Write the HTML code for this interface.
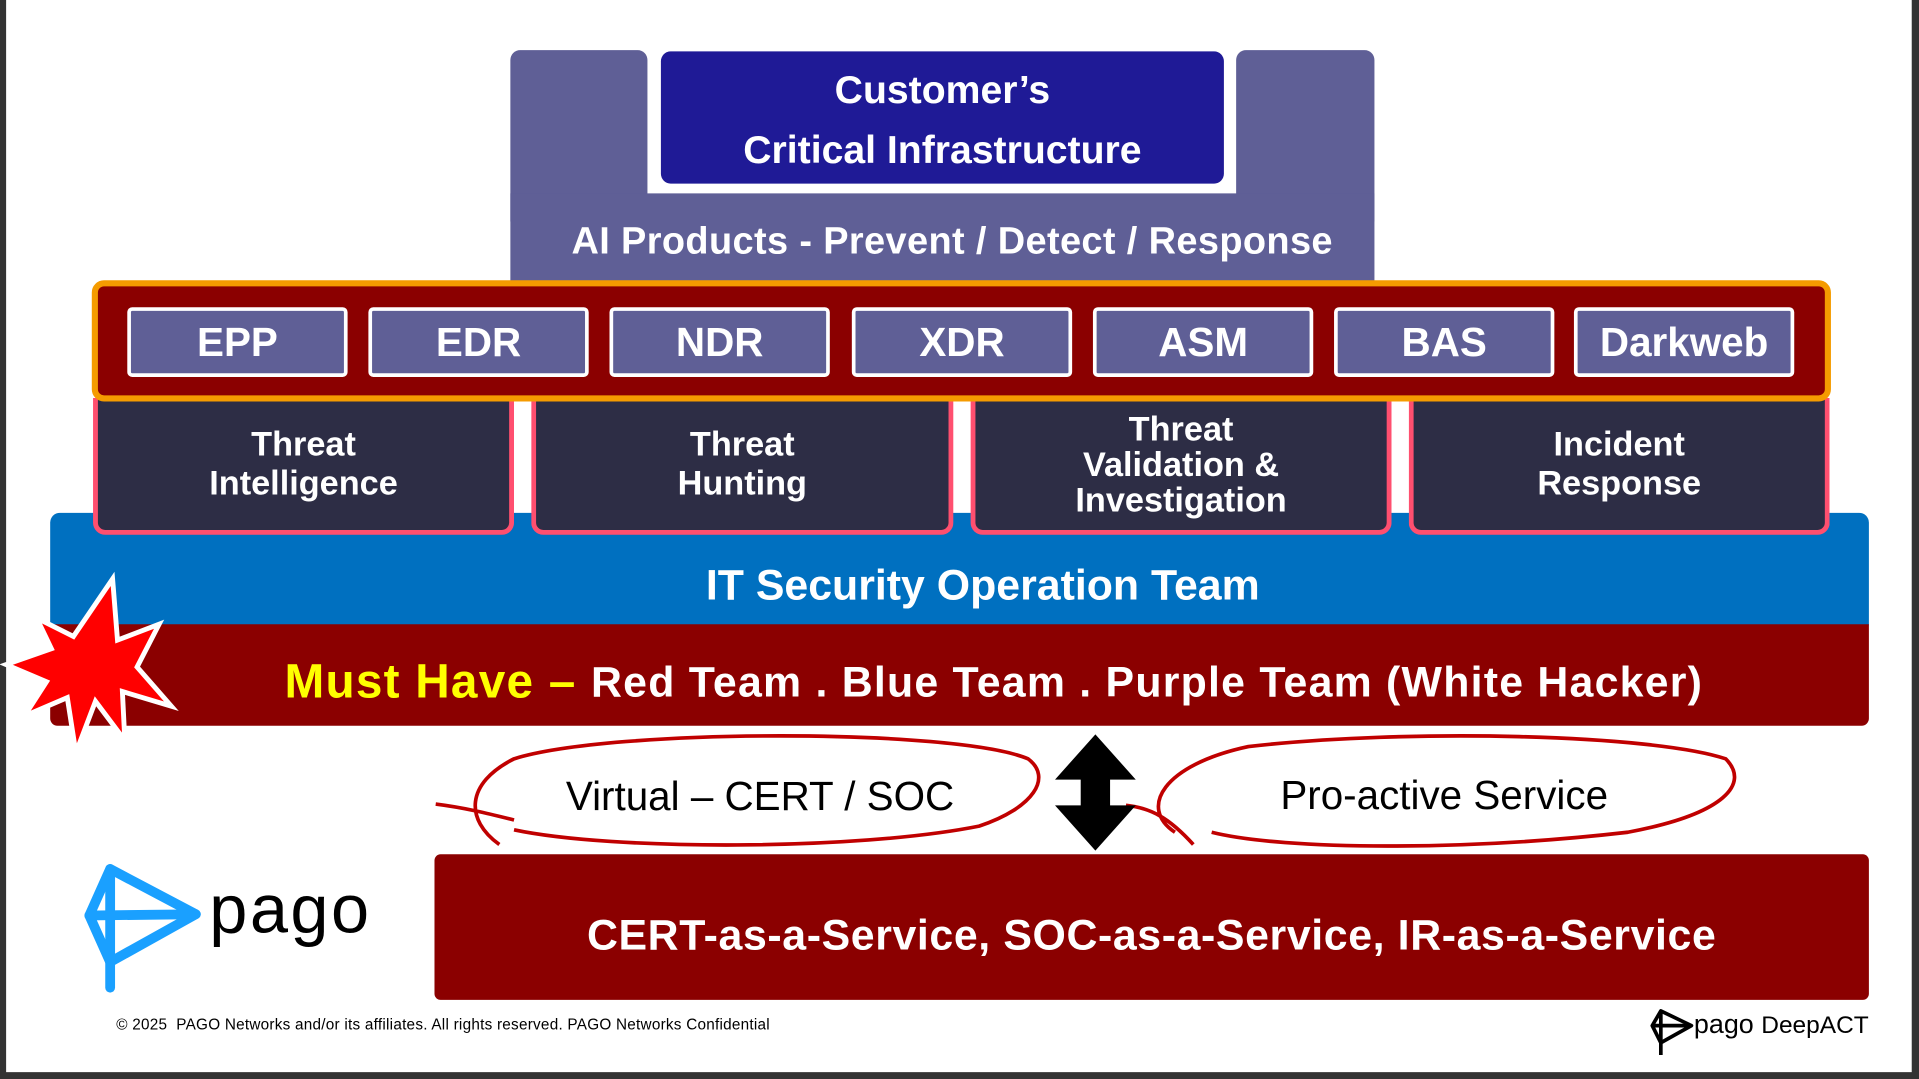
<!DOCTYPE html>
<html><head><meta charset="utf-8"><style>
html,body{margin:0;padding:0;background:#333;}
#wrap{width:1919px;height:1079px;overflow:hidden;position:relative;background:#333;}
#s{position:absolute;left:0;top:0;width:1568px;height:882px;transform:scale(1.2239);transform-origin:0 0;font-family:"Liberation Sans",sans-serif;}
#page{position:absolute;left:5px;top:0;width:1557px;height:876px;background:#fff;}
.a{position:absolute;box-sizing:border-box;}
.c{display:flex;align-items:center;justify-content:center;text-align:center;color:#fff;font-weight:bold;}
.btn{top:251px;width:180px;height:57px;background:#5f5f96;border:3px solid #fff;border-radius:4px;font-size:33px;}
.dk{top:325px;height:112px;background:#2d2d45;border:4px solid #ff4f6f;border-top:none;border-radius:0 0 10px 10px;font-size:28px;line-height:32px;}
</style></head><body><div id="wrap"><div id="s"><div id="page"></div>
<div class="a" style="left:417px;top:41px;width:112px;height:140px;background:#5f5f96;border-radius:8px 8px 0 0"></div>
<div class="a" style="left:1010px;top:41px;width:113px;height:140px;background:#5f5f96;border-radius:8px 8px 0 0"></div>
<div class="a" style="left:417px;top:158px;width:706px;height:72px;background:#5f5f96;"></div>
<div class="a c" style="left:417px;top:166px;width:722px;height:64px;font-size:31px;letter-spacing:0.3px;padding-bottom:2px;">AI Products - Prevent / Detect / Response</div>
<div class="a c" style="left:540px;top:42px;width:460px;height:108px;background:#1f1a96;border-radius:8px;font-size:32px;line-height:49px;padding-top:4px;">Customer’s<br>Critical Infrastructure</div>
<div class="a" style="left:41px;top:419px;width:1486px;height:92px;background:#0070c0;border-radius:8px 8px 0 0"></div>
<div class="a c" style="left:41px;top:450px;width:1524px;height:58px;font-size:35px;">IT Security Operation Team</div>
<div class="a c dk" style="left:76px;width:344px;">Threat<br>Intelligence</div>
<div class="a c dk" style="left:434px;width:345px;">Threat<br>Hunting</div>
<div class="a c dk" style="left:793px;width:344px;line-height:29px;">Threat<br>Validation &amp;<br>Investigation</div>
<div class="a c dk" style="left:1151px;width:344px;">Incident<br>Response</div>
<div class="a" style="left:75px;top:229px;width:1421px;height:99px;background:#8b0000;border:5px solid #f59b00;border-radius:10px"></div>
<div class="a c btn" style="left:104px">EPP</div>
<div class="a c btn" style="left:301px">EDR</div>
<div class="a c btn" style="left:498px">NDR</div>
<div class="a c btn" style="left:696px">XDR</div>
<div class="a c btn" style="left:893px">ASM</div>
<div class="a c btn" style="left:1090px">BAS</div>
<div class="a c btn" style="left:1286px">Darkweb</div>
<div class="a c" style="left:41px;top:510px;width:1486px;height:83px;background:#8b0000;border-radius:0 0 6px 6px;font-size:35px;padding-left:56px;padding-top:12px;letter-spacing:1.0px;"><span style="color:#ff0;font-size:39px;">Must Have –&nbsp;</span>Red Team . Blue Team . Purple Team (White Hacker)</div>
<svg class="a" style="left:0;top:465px" width="150" height="155" viewBox="0 0 150 155"><polygon points="92,8 96,58 130,45 112,80 140,112 100,100 102,140 78,108 62,150 55,105 20,120 38,92 5,78 42,65 30,40 60,55" fill="#ff0000" stroke="#fff" stroke-width="4"/></svg>
<div class="a c" style="left:355px;top:698px;width:1172px;height:119px;background:#8b0000;border-radius:5px;font-size:35px;padding-top:14px;letter-spacing:0.5px;">CERT-as-a-Service, SOC-as-a-Service, IR-as-a-Service</div>
<svg class="a" style="left:0;top:0" width="1568" height="882">
<g fill="none" stroke="#c00000" stroke-width="3">
<path d="M356,657 C380,660 400,665 420,670 M408,690 C380,670 380,640 420,620 C500,595 780,595 840,620 C860,635 845,660 800,675 C700,695 500,695 420,678"/>
<path d="M920,658 C940,660 955,668 975,690 M960,680 C930,660 950,625 1020,610 C1150,595 1350,600 1410,620 C1430,640 1410,665 1330,680 C1200,695 1050,695 990,680"/>
</g>
<polygon points="895,600 928,637 907,637 907,658 928,658 895,695 862,658 883,658 883,637 862,637" fill="#000"/>
<g fill="none" stroke="#1aa0ff" stroke-width="8" stroke-linejoin="round" stroke-linecap="round"><polygon points="90,710 160,747 90,786 73,748"/><line x1="90" y1="710" x2="90" y2="807"/><line x1="73" y1="748" x2="160" y2="747"/></g>
<g fill="none" stroke="#000" stroke-width="3" stroke-linejoin="round"><polygon points="1357,826 1382,838 1357,852 1350,838"/><line x1="1357" y1="826" x2="1357" y2="862"/><line x1="1350" y1="838" x2="1382" y2="838"/></g>
</svg>
<div class="a" style="left:171px;top:710px;font-size:56px;color:#000;letter-spacing:2px;">pago</div>
<div class="a" style="left:1384px;top:824px;font-size:22px;color:#000;">pago <span style="font-size:20px">DeepACT</span></div>
<div class="a c" style="left:356px;top:628px;width:530px;height:46px;font-size:33px;font-weight:normal;color:#000;">Virtual – CERT / SOC</div>
<div class="a c" style="left:940px;top:627px;width:480px;height:46px;font-size:33px;font-weight:normal;color:#000;">Pro-active Service</div>
<div class="a" style="left:95px;top:830px;font-size:12.5px;color:#000;letter-spacing:0.2px;">© 2025&nbsp; PAGO Networks and/or its affiliates. All rights reserved. PAGO Networks Confidential</div>
</div></div></body></html>
